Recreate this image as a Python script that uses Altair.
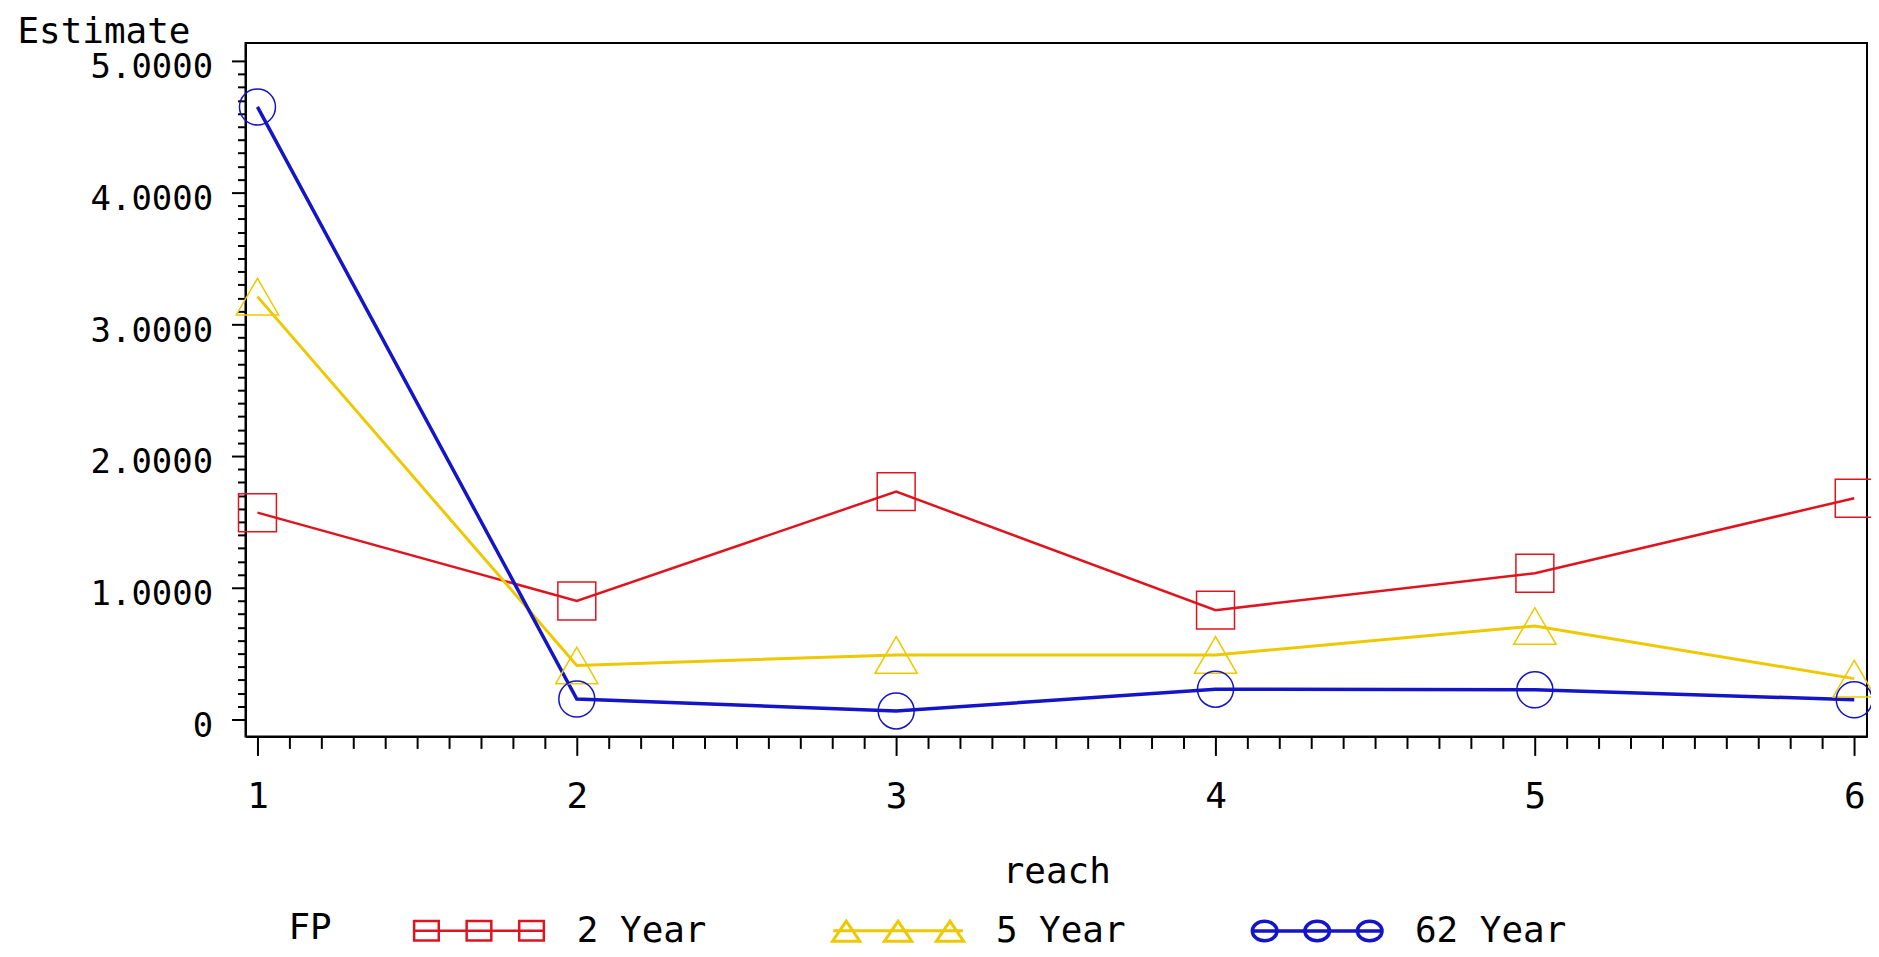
import altair as alt
import pandas as pd

# ---- data ----
reach = [1, 2, 3, 4, 5, 6]
fp_2yr = [1.57, 0.90, 1.73, 0.83, 1.11, 1.68]
fp_5yr = [3.21, 0.41, 0.49, 0.49, 0.71, 0.31]
fp_62yr = [4.65, 0.155, 0.065, 0.23, 0.225, 0.15]
series = ["2 Year", "5 Year", "62 Year"]
colors = ["#E0141E", "#EEC800", "#1414C8"]
shapes = ["square", "triangle-up", "circle"]
line_widths = [2.5, 3.5, 3.0]
marker_sizes = [1444, 1800, 1300]
x_ticks = [round(1 + i * 0.1, 1) for i in range(51)]
y_ticks = [round(i * 0.1, 1) for i in range(51)]

rows = []
for name, vals in zip(series, [fp_2yr, fp_5yr, fp_62yr]):
    for r, v in zip(reach, vals):
        rows.append({"reach": r, "Estimate": v, "FP": name})
df = pd.DataFrame(rows)

FONT = "DejaVu Sans Mono"
MAJOR = "abs(datum.value - round(datum.value)) < 0.001"

# legend symbols: line with three markers (unit path coordinates)
p2 = "M-1,0H1M-1,-0.15H-0.62V0.15H-1ZM-0.19,-0.15H0.19V0.15H-0.19ZM0.62,-0.15H1V0.15H0.62Z"
p5 = ("M-1,0H1M-0.8,-0.15L-0.59,0.16L-1.01,0.16ZM0,-0.15L0.21,0.16L-0.21,0.16Z"
      "M0.8,-0.15L1.01,0.16L0.59,0.16Z")
p62 = ("M-1,0H1M-1,0A0.19,0.15 0 1,0 -0.62,0A0.19,0.15 0 1,0 -1,0"
       "M-0.19,0A0.19,0.15 0 1,0 0.19,0A0.19,0.15 0 1,0 -0.19,0"
       "M0.62,0A0.19,0.15 0 1,0 1,0A0.19,0.15 0 1,0 0.62,0")
shape_sig = f"datum.value == '2 Year' ? '{p2}' : (datum.value == '5 Year' ? '{p5}' : '{p62}')"

legend = alt.Legend(
    orient="none", legendX=43, legendY=823, direction="horizontal", columns=3,
    title="FP", titleOrient="left", titleFont=FONT, titleFontSize=36,
    titleFontWeight="normal", titleColor="black", titlePadding=80,
    titleBaseline="line-top", titleLineHeight=44, titleAnchor="middle",
    labelFont=FONT, labelFontSize=36, labelColor="black", labelOffset=31,
    columnPadding=119, symbolSize=16900,
    symbolStrokeWidth={"expr": "datum.value == '5 Year' ? 2.5 : 2"},
    symbolType={"expr": shape_sig},
    symbolFillColor="transparent", symbolOpacity=1,
)

color_enc = alt.Color("FP:N", scale=alt.Scale(domain=series, range=colors), legend=legend)

x_enc = alt.X(
    "reach:Q",
    scale=alt.Scale(domain=[0.9625, 6.04], nice=False, zero=False),
    axis=alt.Axis(
        values=x_ticks, labelExpr=f"{MAJOR} ? format(datum.value, 'd') : ''",
        tickSize={"condition": {"test": f"!({MAJOR})", "value": 12}, "value": 19},
        tickWidth=2, tickColor="black", domainColor="black", domainWidth=2,
        labelFont=FONT, labelFontSize=36, labelColor="black", labelPadding=24,
        labelFlush=False, labelOverlap=False, labelBaseline="top",
        title="reach", titleFont=FONT, titleFontSize=36, titleFontWeight="normal",
        titleColor="black", titleY=146, titleBaseline="alphabetic", grid=False,
    ),
)
y_enc = alt.Y(
    "Estimate:Q",
    scale=alt.Scale(domain=[-0.1288, 5.136], nice=False, zero=False),
    axis=alt.Axis(
        values=y_ticks,
        labelExpr=f"datum.value == 0 ? '0' : ({MAJOR} ? format(datum.value, '.4f') : '')",
        tickSize={"condition": {"test": f"!({MAJOR})", "value": 8}, "value": 14},
        tickWidth=2, tickColor="black", domainColor="black", domainWidth=2,
        labelFont=FONT, labelFontSize=34, labelColor="black", labelPadding=19,
        labelOffset=7, labelOverlap=False, labelBaseline="middle",
        title="Estimate", titleAngle=0, titleX=-229, titleY=0, titleAlign="left",
        titleBaseline="alphabetic", titleFont=FONT, titleFontSize=36,
        titleFontWeight="normal", titleColor="black", grid=False,
    ),
)

base = alt.Chart(df)
lines = base.mark_line().encode(
    x=x_enc, y=y_enc, color=color_enc,
    strokeWidth=alt.StrokeWidth("FP:N", scale=alt.Scale(domain=series, range=line_widths), legend=None),
)

marker_layers = []
for name, col, shp, sz in zip(series, colors, shapes, marker_sizes):
    marker_layers.append(
        base.transform_filter(alt.datum.FP == name)
        .mark_point(filled=False, strokeWidth=1.5, opacity=1, shape=shp, size=sz, color=col)
        .encode(x=x_enc, y=y_enc)
    )

chart = (
    alt.layer(lines, *marker_layers)
    .properties(
        width=1625, height=695,
        autosize=alt.AutoSizeParams(type="none"),
        padding={"left": 238, "top": 34, "right": 4, "bottom": 212},
        background="white",
    )
    .configure_view(stroke="black", strokeWidth=2)
)

chart.save("out.html", embed_options={"renderer": "svg", "actions": False})
